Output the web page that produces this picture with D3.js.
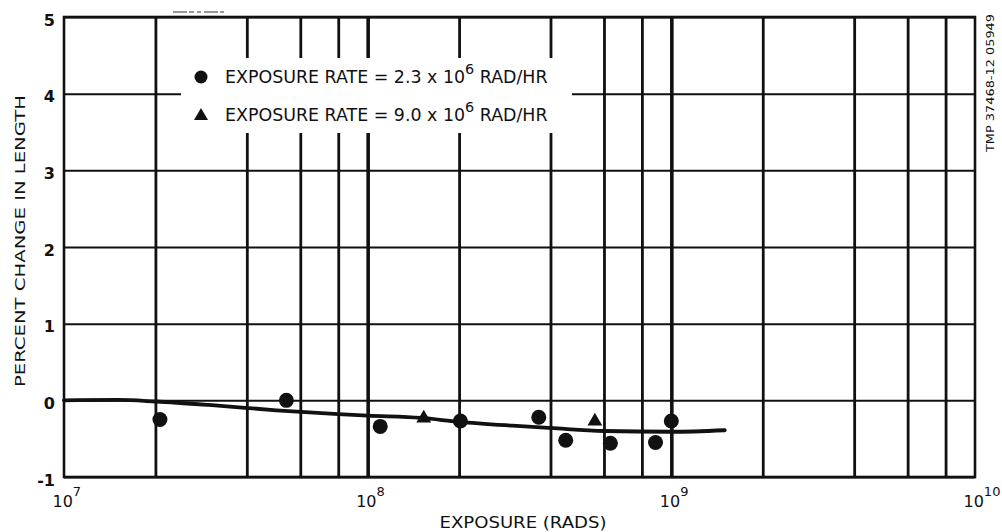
<!DOCTYPE html>
<html>
<head>
<meta charset="utf-8">
<script src="https://cdn.jsdelivr.net/npm/d3@7"></script>
<style>
  html, body { margin: 0; padding: 0; background: #fff; }
  svg { display: block; }
  text { font-family: "DejaVu Sans", sans-serif; fill: #111; }
</style>
</head>
<body>
<svg id="chart" width="1002" height="532"></svg>
<script>
// Exposure (rads) and percent change in length, two exposure rates
const lowRateExposure  = [2.07e7, 5.4e7, 1.1e8, 2.02e8, 3.66e8, 4.49e8, 6.3e8, 8.87e8, 1.0e9];
const lowRateChange    = [-0.25, 0.00, -0.34, -0.27, -0.22, -0.52, -0.56, -0.55, -0.27];
const highRateExposure = [1.53e8, 5.6e8];
const highRateChange   = [-0.22, -0.26];

// Smoothed trend through the measurements
const fitExposure = [1e7, 1.5e7, 2e7, 3e7, 5e7, 8e7, 1e8, 1.5e8, 2e8, 3e8, 4e8, 6e8, 1e9, 1.5e9];
const fitChange   = [0.0, 0.005, -0.015, -0.06, -0.13, -0.18, -0.20, -0.23, -0.28, -0.33, -0.36, -0.40, -0.41, -0.39];

// Axis ticks and grid
const xDecades = [1e7, 1e8, 1e9, 1e10];
const xDecadeExp = ["7", "8", "9", "10"];
const xGrid = [2e7, 4e7, 6e7, 8e7, 1e8, 2e8, 4e8, 6e8, 8e8, 1e9, 2e9, 4e9, 6e9, 8e9];
const yTicks = [-1, 0, 1, 2, 3, 4, 5];

// Legend entries
const legendBase = ["EXPOSURE RATE = 2.3 x 10", "EXPOSURE RATE = 9.0 x 10"];
const legendExp = ["6", "6"];
const legendUnit = [" RAD/HR", " RAD/HR"];

const xTitle = "EXPOSURE (RADS)";
const yTitle = "PERCENT CHANGE IN LENGTH";
const drawingNo = "TMP 37468-12  05949";

const svg = d3.select("#chart");
const L = 64, R = 975, T = 17, B = 477;

const x = d3.scaleLog().domain([1e7, 1e10]).range([L, R]);
const y = d3.scaleLinear().domain([-1, 5]).range([B, T]);

const ink = "#111";

// vertical grid
const vg = svg.append("g").attr("transform", `translate(0,${B})`)
  .call(d3.axisBottom(x).tickValues(xGrid).tickSize(-(B - T)).tickFormat(""));
vg.select(".domain").remove();
vg.selectAll("line")
  .attr("stroke", ink)
  .attr("stroke-width", d => (xDecades.includes(d) ? 3.6 : 2.8));

// horizontal grid
const hg = svg.append("g").attr("transform", `translate(${L},0)`)
  .call(d3.axisLeft(y).tickValues(yTicks).tickSize(-(R - L)).tickFormat(""));
hg.select(".domain").remove();
hg.selectAll("line").attr("stroke", ink).attr("stroke-width", 2);

// frame
svg.append("rect")
  .attr("x", L).attr("y", T).attr("width", R - L).attr("height", B - T)
  .attr("fill", "none").attr("stroke", ink).attr("stroke-width", 2.6);

// legend panel clears the grid behind it
svg.append("rect")
  .attr("x", 181).attr("y", 58).attr("width", 391).attr("height", 75)
  .attr("fill", "#fff");

// y tick labels
const ya = svg.append("g").attr("transform", `translate(${L},0)`)
  .call(d3.axisLeft(y).tickValues(yTicks).tickSize(0).tickPadding(9).tickFormat(d => String(d)));
ya.select(".domain").remove();
ya.selectAll("text")
  .attr("font-size", 16).attr("font-weight", "bold").attr("dy", "0.5em")
  .style("font-family", "'DejaVu Sans', sans-serif").attr("fill", ink);

// x tick labels: powers of ten
const xa = svg.append("g").attr("transform", `translate(0,${B})`)
  .call(d3.axisBottom(x).tickValues(xDecades).tickSize(0).tickFormat(""));
xa.select(".domain").remove();
xa.selectAll(".tick text").remove();
xa.selectAll(".tick").append("text")
  .attr("x", -12).attr("y", 30)
  .attr("text-anchor", "start")
  .attr("font-size", 16)
  .style("font-family", "'DejaVu Sans', sans-serif")
  .attr("fill", ink)
  .each(function(d, i) {
    const t = d3.select(this);
    t.append("tspan").text("10");
    t.append("tspan").attr("dy", -11).attr("font-size", 13).text(xDecadeExp[i]);
  });

// trend line
const line = d3.line()
  .x((d, i) => x(fitExposure[i]))
  .y((d, i) => y(fitChange[i]))
  .curve(d3.curveMonotoneX);
svg.append("path")
  .attr("d", line(fitExposure))
  .attr("fill", "none").attr("stroke", ink)
  .attr("stroke-width", 3.8).attr("stroke-linecap", "round");

// measurements
svg.append("g").selectAll("circle")
  .data(lowRateExposure)
  .join("circle")
  .attr("cx", d => x(d))
  .attr("cy", (d, i) => y(lowRateChange[i]))
  .attr("r", 7.5).attr("fill", ink);

const tri = d3.symbol().type(d3.symbolTriangle).size(95);
svg.append("g").selectAll("path")
  .data(highRateExposure)
  .join("path")
  .attr("d", tri)
  .attr("transform", (d, i) => `translate(${x(d)},${y(highRateChange[i]) + 1})`)
  .attr("fill", ink);

// legend
const legendY = [83, 121];
const legendMarkY = [77, 115];
const lg = svg.append("g");
lg.append("circle").attr("cx", 201).attr("cy", legendMarkY[0]).attr("r", 6.5).attr("fill", ink);
lg.append("path").attr("d", d3.symbol().type(d3.symbolTriangle).size(85))
  .attr("transform", `translate(201,${legendMarkY[1] + 1})`).attr("fill", ink);

legendBase.forEach((label, i) => {
  const t = lg.append("text")
    .attr("x", 225).attr("y", legendY[i])
    .attr("font-size", 17);
  t.append("tspan").text(label);
  t.append("tspan").attr("dy", -9).attr("font-size", 14).text(legendExp[i]);
  t.append("tspan").attr("dy", 9).text(legendUnit[i]);
  const w = t.node().getBBox().width;
  const s = 323 / w;
  t.attr("transform", `translate(225,0) scale(${s},1) translate(-225,0)`);
});

// axis titles
svg.append("text")
  .attr("x", 523).attr("y", 528)
  .attr("text-anchor", "middle")
  .attr("font-size", 16)
  .attr("textLength", 167).attr("lengthAdjust", "spacingAndGlyphs")
  .text(xTitle);

svg.append("text")
  .attr("transform", "translate(25,241) rotate(-90)")
  .attr("text-anchor", "middle")
  .attr("font-size", 14)
  .attr("textLength", 292).attr("lengthAdjust", "spacingAndGlyphs")
  .text(yTitle);

// drawing number along the right edge
svg.append("text")
  .attr("transform", "translate(994,83) rotate(-90)")
  .attr("text-anchor", "middle")
  .attr("font-size", 11)
  .attr("textLength", 138).attr("lengthAdjust", "spacingAndGlyphs")
  .text(drawingNo);

// faint stroke above the frame
svg.append("line")
  .attr("x1", 173).attr("x2", 224).attr("y1", 12).attr("y2", 12)
  .attr("stroke", "#333").attr("stroke-width", 1.2)
  .attr("stroke-dasharray", "14,2,5,3,4,3");
</script>
</body>
</html>
